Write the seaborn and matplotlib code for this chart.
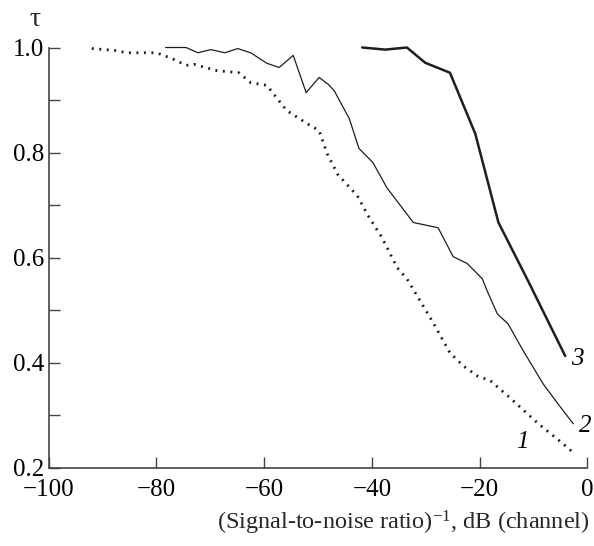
import matplotlib
matplotlib.use("Agg")
import matplotlib.pyplot as plt
import seaborn as sns
import pandas as pd
from matplotlib.ticker import MultipleLocator

# ---- data ----
x1 = [-92, -87.2, -85.7, -80, -77.1, -74.5, -73, -68.8, -64.7, -62.5, -59.5, -55.8,
      -52, -49.8, -48.3, -46.3, -42.7, -40.7, -38.1, -35.3, -33.5, -31.4, -28.6,
      -25.5, -23, -20.4, -18, -14.3, -9.3, -4.5, -2.6]
y1 = [0.998, 0.994, 0.99, 0.99, 0.979, 0.966, 0.968, 0.956, 0.952, 0.933, 0.928, 0.88,
      0.855, 0.842, 0.798, 0.758, 0.718, 0.68, 0.638, 0.581, 0.56, 0.524, 0.476,
      0.419, 0.394, 0.375, 0.366, 0.333, 0.286, 0.246, 0.229]

x2 = [-78.3, -74.5, -72.3, -69.9, -67.3, -64.9, -62.5, -59.5, -57.2, -54.6, -52.2,
      -49.8, -48.1, -47.0, -45.9, -44.2, -42.4, -39.8, -37.2, -32.3, -27.7, -24.9,
      -22.3, -19.5, -18.6, -16.7, -14.7, -11.9, -8.2, -5.6, -2.6]
y2 = [1.0, 1.0, 0.99, 0.996, 0.99, 0.998, 0.99, 0.97, 0.962, 0.985, 0.914,
      0.943, 0.93, 0.918, 0.897, 0.865, 0.808, 0.781, 0.733, 0.667, 0.657, 0.602,
      0.589, 0.56, 0.537, 0.493, 0.474, 0.423, 0.36, 0.324, 0.284]

x3 = [-41.8, -37.5, -33.5, -30.1, -25.5, -20.8, -16.5, -11, -4.1]
y3 = [1.0, 0.996, 1.0, 0.971, 0.952, 0.836, 0.667, 0.556, 0.413]

curve_labels = ["1", "2", "3"]
xticks = [-100, -80, -60, -40, -20, 0]
yticks = [0.2, 0.4, 0.6, 0.8, 1.0]
xlabel = "(Signal-to-noise ratio)$^{-1}$, dB (channel)"
ylabel = "τ"

sns.set_style("ticks")
plt.rcParams["font.family"] = ["Liberation Serif", "DejaVu Serif"]
plt.rcParams["mathtext.fontset"] = "custom"
plt.rcParams["mathtext.rm"] = "Liberation Serif"
plt.rcParams["mathtext.it"] = "Liberation Serif:italic"

fig = plt.figure(figsize=(5.94, 5.46), dpi=100)
ax = fig.add_axes([0.082, 0.143, 0.9067, 0.770])

ink = "#1e1e1e"
d1 = pd.DataFrame({"x": x1, "y": y1})
d2 = pd.DataFrame({"x": x2, "y": y2})
d3 = pd.DataFrame({"x": x3, "y": y3})
sns.lineplot(data=d1, x="x", y="y", ax=ax, sort=False, estimator=None,
             color=ink, lw=2.0, linestyle=(0, (0.7, 2.0)), clip_on=False)
sns.lineplot(data=d2, x="x", y="y", ax=ax, sort=False, estimator=None,
             color=ink, lw=0.9, clip_on=False)
sns.lineplot(data=d3, x="x", y="y", ax=ax, sort=False, estimator=None,
             color=ink, lw=1.8, clip_on=False)

fs = 18
ax.text(-12.1, 0.249, curve_labels[0], fontsize=fs, style="italic", ha="center", va="center", color="black")
ax.text(-0.3, 0.279, curve_labels[1], fontsize=fs, style="italic", ha="center", va="center", color="black", clip_on=False)
ax.text(-1.9, 0.408, curve_labels[2], fontsize=fs, style="italic", ha="center", va="center", color="black")

ax.set_xlim(-100, 0)
ax.set_ylim(0.2, 1.0)
ax.set_xticks(xticks)
ax.set_xticklabels([f"{t}".replace("-", "\u2212") for t in xticks])
ax.set_yticks(yticks)
ax.set_yticklabels([f"{t:.1f}" for t in yticks])
ax.yaxis.set_minor_locator(MultipleLocator(0.1))
ax.tick_params(axis="both", which="both", direction="in", length=8, width=1.0,
               color="#444444", labelsize=fs, labelcolor="black")
ax.tick_params(axis="y", pad=3)
ax.tick_params(axis="x", pad=8)
ax.set_xlabel("")
ax.set_ylabel("")
sns.despine(ax=ax)
for s in ["left", "bottom"]:
    ax.spines[s].set_color("#444444")
    ax.spines[s].set_linewidth(1.2)

fig.text(35 / 594, 1 - 19 / 546, ylabel, fontsize=20, ha="center", va="center")
fig.text(590 / 594, 1 - 523 / 546, xlabel, fontsize=17.5, ha="right", va="center")

fig.savefig("out.png", dpi=100)
